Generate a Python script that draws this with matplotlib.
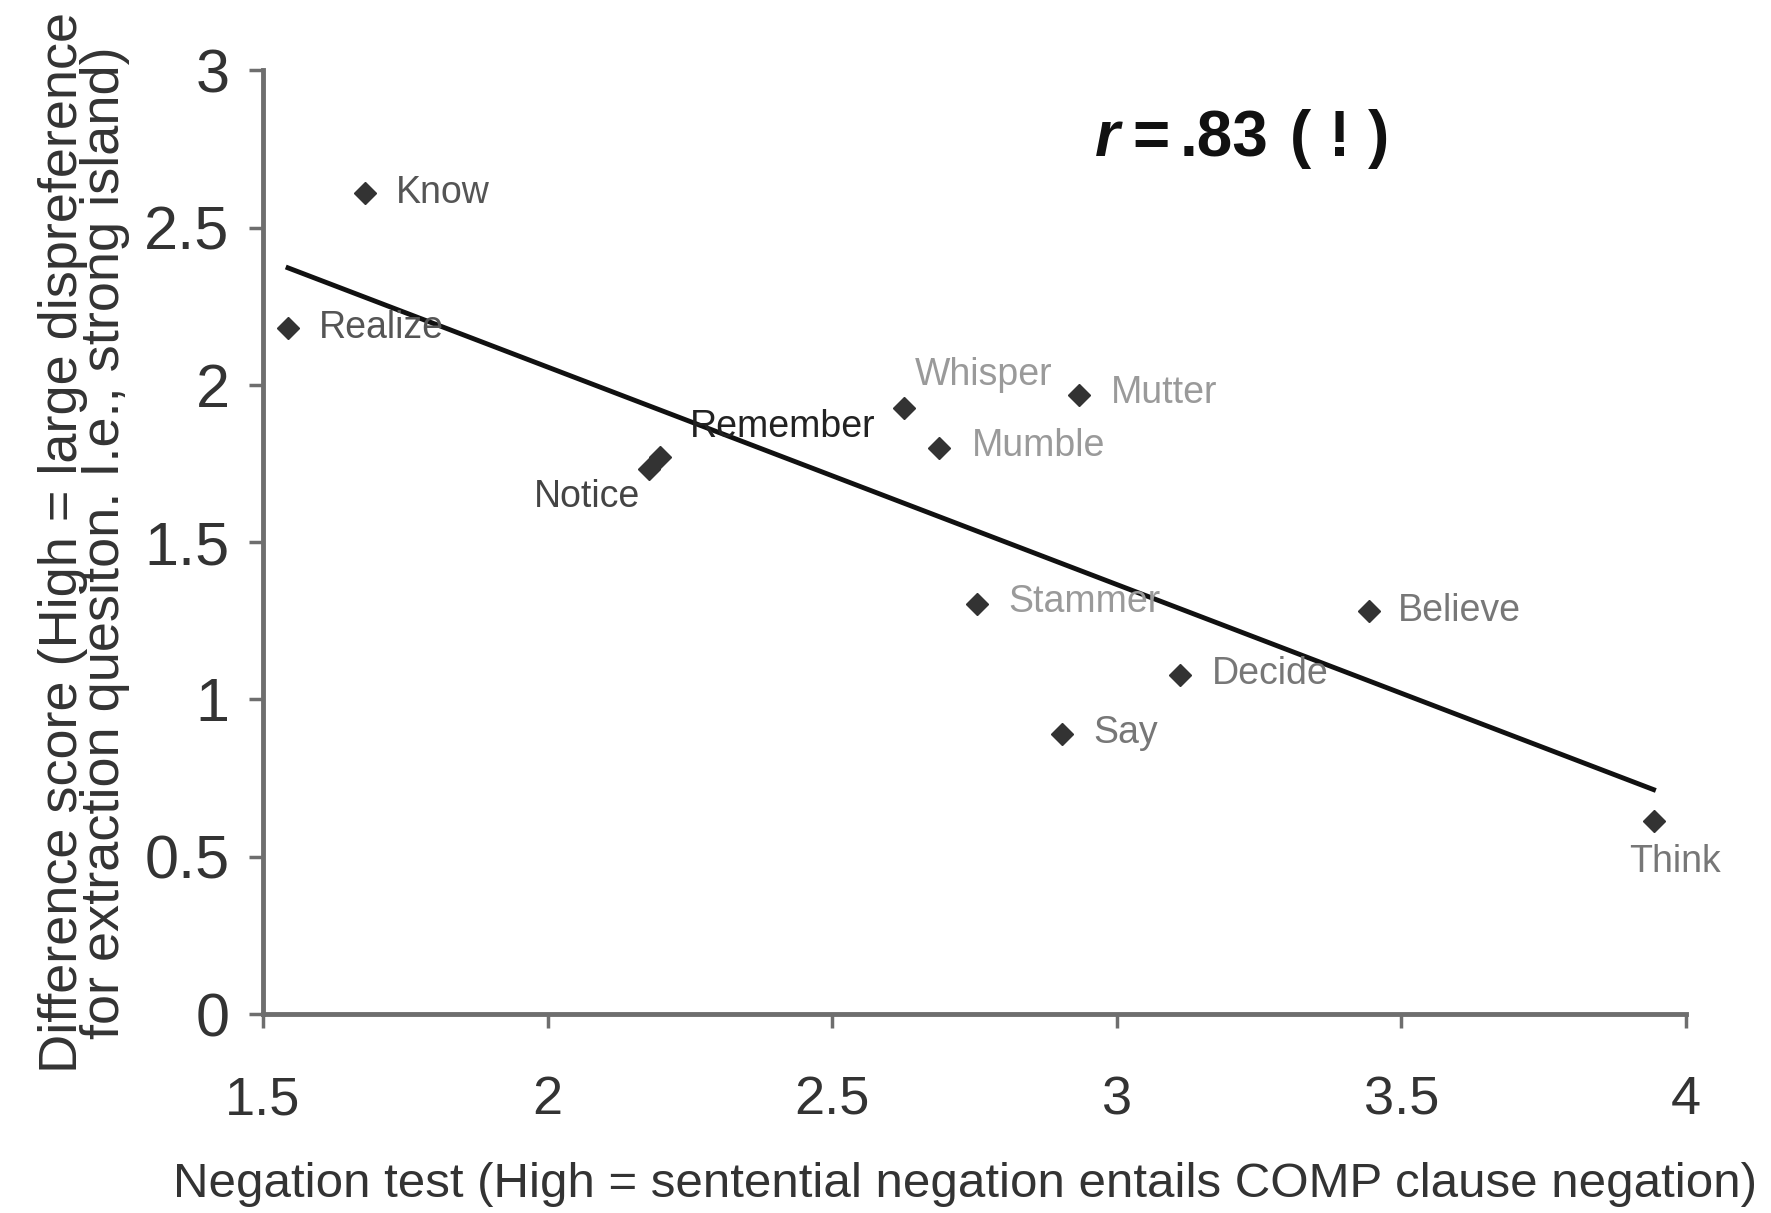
import numpy as np
import matplotlib
matplotlib.use("Agg")
import matplotlib.pyplot as plt

plt.rcParams['font.family'] = ['Liberation Sans', 'DejaVu Sans']

# Verbs: negation-test score vs. island difference score
verbs = ["Know", "Realize", "Notice", "Remember", "Whisper", "Mutter",
         "Mumble", "Stammer", "Believe", "Decide", "Say", "Think"]
negation = [1.679, 1.544, 2.179, 2.198, 2.627, 2.934,
            2.687, 2.754, 3.443, 3.111, 2.903, 3.943]
difference = [2.61, 2.18, 1.733, 1.77, 1.927, 1.967,
              1.798, 1.303, 1.281, 1.077, 0.89, 0.614]

x_ticks = [1.5, 2, 2.5, 3, 3.5, 4]
y_ticks = [0, 0.5, 1, 1.5, 2, 2.5, 3]
x_tick_labels = ["1.5", "2", "2.5", "3", "3.5", "4"]
y_tick_labels = ["0", "0.5", "1", "1.5", "2", "2.5", "3"]

# label placement (pixel offsets, alignment, colour) per verb
label_style = {
    "Know":     ((31, 0), "left", "#555555"),
    "Realize":  ((31, 0), "left", "#555555"),
    "Notice":   ((-9, -28), "right", "#444444"),
    "Remember": ((30, 30), "left", "#222222"),
    "Whisper":  ((10, 33), "left", "#9a9a9a"),
    "Mutter":   ((32, 2), "left", "#9a9a9a"),
    "Mumble":   ((33, 2), "left", "#9a9a9a"),
    "Stammer":  ((32, 2), "left", "#9a9a9a"),
    "Believe":  ((29, 0), "left", "#777777"),
    "Decide":   ((32, 1), "left", "#777777"),
    "Say":      ((32, 1), "left", "#777777"),
    "Think":    ((21, -41), "center", "#777777"),
}

fig = plt.figure(figsize=(17.71, 12.13), dpi=100)
ax = fig.add_axes([0.1485, 0.164, 0.8035, 0.778])

xs = np.array(negation)
ys = np.array(difference)

ax.plot(xs, ys, linestyle="none", marker="D", markersize=11,
        color="#333333", zorder=3)

# least-squares trend line across the observed range
slope, intercept = np.polyfit(xs, ys, 1)
line_x = np.array([xs.min(), xs.max()])
ax.plot(line_x, slope * line_x + intercept, color="#111111", lw=3.5, zorder=2)

r = np.corrcoef(xs, ys)[0, 1]
r_txt = f"{abs(r):.2f}".lstrip("0")

for name, x, y in zip(verbs, negation, difference):
    (dx, dy), ha, col = label_style[name]
    ax.annotate(name, (x, y), xytext=(dx, dy), textcoords="offset pixels",
                ha=ha, va="center", fontsize=27, color=col, zorder=4)

# correlation annotation: italic r, then the value, set with wide spacing
r_parts = [("r", 0.6023, "right", "italic"),
           ("=", 0.611, "left", "normal"),
           (r_txt, 0.644, "left", "normal"),
           ("( ! )", 0.722, "left", "normal")]
for txt, xpos, ha, style in r_parts:
    ax.text(xpos, 0.927, txt, transform=ax.transAxes, fontsize=46,
            ha=ha, va="center", fontweight="bold", fontstyle=style,
            color="#111111")

ax.set_xlim(1.5, 4)
ax.set_ylim(0, 3)
ax.set_xticks(x_ticks)
ax.set_xticklabels(x_tick_labels)
ax.set_yticks(y_ticks)
ax.set_yticklabels(y_tick_labels)

for side in ("top", "right"):
    ax.spines[side].set_visible(False)
for side in ("left", "bottom"):
    ax.spines[side].set_color("#6e6e6e")
    ax.spines[side].set_linewidth(3.5)

ax.tick_params(axis="both", colors="#6e6e6e", width=2.5, length=10,
               labelcolor="#333333")
ax.tick_params(axis="x", pad=34, labelsize=39)
ax.tick_params(axis="y", pad=14, labelsize=44)

ax.set_xlabel("Negation test (High = sentential negation entails COMP clause negation)",
              fontsize=35.5, color="#333333")
ax.xaxis.set_label_coords(0.493, -0.157)
ax.set_ylabel("Difference score (High = large dispreference\n"
              "for extraction quesiton. I.e., strong island)",
              fontsize=39, color="#333333", labelpad=10, linespacing=0.8)

fig.savefig("out.png", dpi=100, facecolor="white")
